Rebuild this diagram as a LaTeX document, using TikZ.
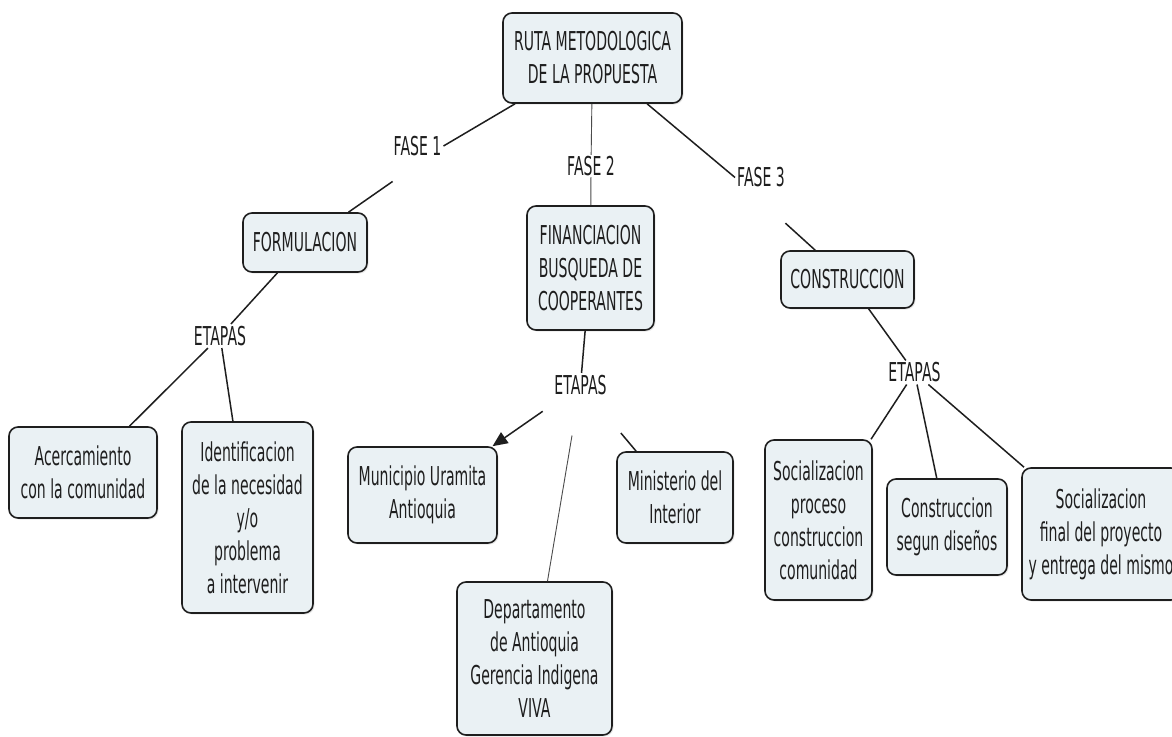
\documentclass[tikz,border=0pt]{standalone}
\usepackage{fontspec}
\setmainfont[FakeStretch=0.54]{DejaVu Sans}
\usetikzlibrary{arrows.meta,shadows}

\definecolor{boxfill}{HTML}{EAF1F4}
\definecolor{ink}{HTML}{1E1E1E}

\tikzset{
  concept/.style={draw=ink, line width=1.6pt, fill=boxfill, rounded corners=9pt,
    align=center, inner sep=0pt, text=ink, font=\fontsize{26}{33}\selectfont,
    drop shadow={shadow xshift=1.5pt, shadow yshift=-1.5pt, opacity=0.18}},
  phrase/.style={fill=white, inner sep=2pt, text=ink, font=\fontsize{26}{33}\selectfont},
  link/.style={line width=1.5pt, draw=ink},
  thinlink/.style={line width=0.9pt, draw=ink!80},
}

\begin{document}
\begin{tikzpicture}[x=1pt,y=-1pt] % pixel grid, y down
\fill[white] (0,0) rectangle (1172,736);
\useasboundingbox (0,0) rectangle (1172,736);

% concepts
\node[concept, minimum width=179pt, minimum height=90pt] (root) at (592.5,58) {RUTA METODOLOGICA\\DE LA PROPUESTA};
\node[concept, minimum width=124pt, minimum height=59pt] (formul) at (305,242.5) {FORMULACION};
\node[concept, minimum width=127pt, minimum height=124pt] (financ) at (590.5,268) {FINANCIACION\\BUSQUEDA DE\\COOPERANTES};
\node[concept, minimum width=133pt, minimum height=57pt] (constr) at (847.5,279.5) {CONSTRUCCION};

\node[concept, minimum width=148pt, minimum height=91pt] (acerc) at (83,472.5) {Acercamiento\\con la comunidad};
\node[concept, minimum width=131pt, minimum height=191pt] (ident) at (247.5,517.5) {Identificacion\\de la necesidad\\y/o\\problema\\a intervenir};
\node[concept, minimum width=149pt, minimum height=96pt] (munic) at (422.5,495) {Municipio Uramita\\Antioquia};
\node[concept, minimum width=116pt, minimum height=91pt] (minist) at (675,497.5) {Ministerio del\\Interior};
\node[concept, minimum width=155pt, minimum height=153pt] (dept) at (534.5,658.5) {Departamento\\de Antioquia\\Gerencia Indigena\\VIVA};
\node[concept, minimum width=107pt, minimum height=160pt] (soc1) at (818.5,520) {Socializacion\\proceso\\construccion\\comunidad};
\node[concept, minimum width=120pt, minimum height=96pt] (constr2) at (947,527) {Construccion\\segun diseños};
\node[concept, minimum width=158pt, minimum height=132pt] (soc2) at (1101,534) {Socializacion\\final del proyecto\\y entrega del mismo};

% linking phrases
\node[phrase] (fase1) at (417.5,146) {FASE 1};
\node[phrase, inner sep=1pt] (fase2) at (591,166) {FASE 2};
\node[phrase] (fase3) at (761,177.5) {FASE 3};
\node[phrase] (etapas1) at (220,336) {ETAPAS};
\node[phrase] (etapas2) at (580.5,385) {ETAPAS};
\node[phrase] (etapas3) at (914.5,372.5) {ETAPAS};

% links
\draw[link] (root) -- (fase1.east);
\draw[link, shorten <=62pt] (fase1.east) -- (formul);
\draw[thinlink] (root) -- (fase2) -- (financ);
\draw[link] (root) -- (fase3.west);
\draw[link, shorten <=68pt] (fase3.west) -- (constr);

\draw[link] (formul) -- (etapas1);
\foreach \b in {acerc, ident} {
\draw[link] (etapas1) -- (\b);
}

\draw[link] (financ) -- (etapas2);
\draw[link, -{Triangle[length=15pt,width=13pt]}, shorten <=25pt] (etapas2) -- (munic);
\draw[thinlink, shorten <=39pt] (etapas2) -- (dept);
\draw[link, shorten <=47pt] (etapas2) -- (minist);

\draw[link] (constr) -- (etapas3);
\foreach \b in {soc1, constr2, soc2} {
\draw[link] (etapas3) -- (\b);
}

\end{tikzpicture}
\end{document}
